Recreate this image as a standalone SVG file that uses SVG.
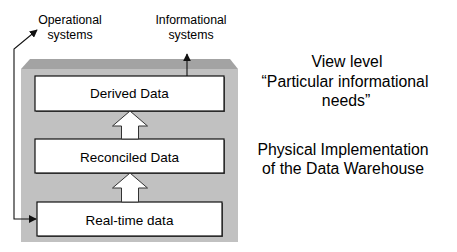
<svg xmlns="http://www.w3.org/2000/svg" width="457" height="252" viewBox="0 0 457 252">
  <style>
    text { font-family: "Liberation Sans", Arial, sans-serif; fill: #000; text-anchor: middle; }
    .small { font-size: 12.3px; }
    .label { font-size: 13.5px; }
    .big { font-size: 15.8px; }
    .box { fill: #fff; stroke: #111; stroke-width: 1.2; }
    .shadow { fill: #555; }
    .block { fill: #fff; stroke: #333; stroke-width: 1; }
    .link { fill: none; stroke: #111; stroke-width: 1.1; }
  </style>
  <defs>
    <marker id="head" viewBox="0 0 10 10" refX="9" refY="5" markerWidth="8" markerHeight="8" markerUnits="userSpaceOnUse" orient="auto-start-reverse">
      <path d="M0,0 L10,5 L0,10 z" fill="#111"/>
    </marker>
  </defs>

  <!-- warehouse body: bevelled top and front face -->
  <g id="warehouse">
    <polygon points="30,59 230,59 238,69 21,69" fill="#a3a3a3"/>
    <rect x="21" y="69" width="217" height="173" fill="#c1c1c1"/>
  </g>

  <!-- data layers -->
  <g id="derived">
    <rect class="shadow" x="36" y="77" width="189" height="35"/>
    <rect class="box" x="35" y="76" width="189" height="35"/>
    <text class="label" x="129.5" y="98">Derived Data</text>
  </g>
  <g id="reconciled">
    <rect class="shadow" x="36" y="140" width="189" height="34"/>
    <rect class="box" x="35" y="139" width="189" height="34"/>
    <text class="label" x="129.5" y="161.5">Reconciled Data</text>
  </g>
  <g id="realtime">
    <rect class="shadow" x="38" y="203" width="185" height="34"/>
    <rect class="box" x="37" y="202" width="185" height="34"/>
    <text class="label" x="129.5" y="224.5">Real-time data</text>
  </g>

  <!-- external systems -->
  <g id="operational">
    <text class="small" x="70" y="24">Operational</text>
    <text class="small" x="70" y="39">systems</text>
  </g>
  <g id="informational">
    <text class="small" x="191" y="24">Informational</text>
    <text class="small" x="191" y="39">systems</text>
  </g>

  <!-- side annotations -->
  <g id="view-level">
    <text class="big" x="347" y="67">View level</text>
    <text class="big" x="345" y="87">“Particular informational</text>
    <text class="big" x="346" y="106">needs”</text>
  </g>
  <g id="physical">
    <text class="big" x="343" y="155">Physical Implementation</text>
    <text class="big" x="343" y="174">of the Data Warehouse</text>
  </g>

  <!-- connectors -->
  <g id="connectors">
    <polygon class="block" points="130,111 147.5,126 138.5,126 138.5,139 121.5,139 121.5,126 112.5,126"/>
    <polygon class="block" points="130,173 147.5,188 138.5,188 138.5,202 121.5,202 121.5,188 112.5,188"/>
    <line class="link" x1="187" y1="76" x2="187" y2="54" marker-end="url(#head)"/>
    <polyline class="link" points="36,219 14,219 14,49 37,30" marker-start="url(#head)" marker-end="url(#head)"/>
  </g>
</svg>
